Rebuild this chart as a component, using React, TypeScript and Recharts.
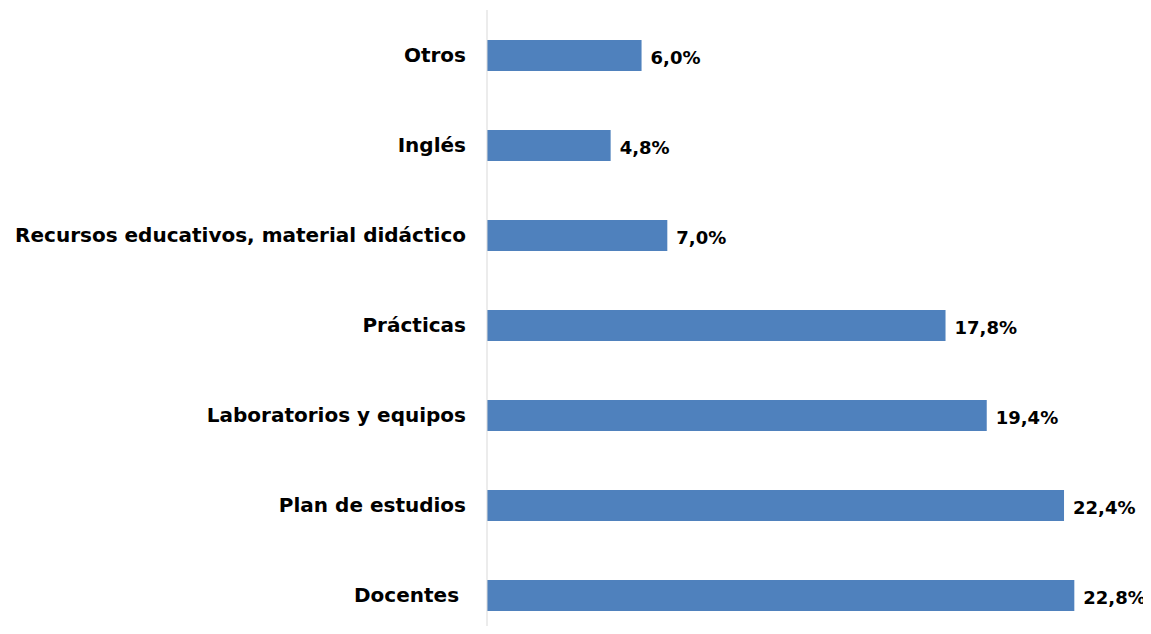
import React from 'react';
import { BarChart, Bar, XAxis, YAxis, LabelList } from 'recharts';

const categories = [
    'Otros',
    'Inglés',
    'Recursos educativos, material didáctico',
    'Prácticas',
    'Laboratorios y equipos',
    'Plan de estudios',
    'Docentes\u00a0',
];
const values = [6.0, 4.8, 7.0, 17.8, 19.4, 22.4, 22.8];

const data = categories.map((name, i) => ({ name, value: values[i] }));

const FONT = "'DejaVu Sans', sans-serif";

export default function App() {
    return (
        <div style={{ margin: -8, width: 1151, height: 634, overflow: 'hidden', background: '#fff' }}>
            <BarChart
                width={1151}
                height={640}
                data={data}
                layout="vertical"
                margin={{ top: 10, right: 20, bottom: 0, left: 0 }}
            >
                <XAxis type="number" domain={[0, 25]} hide />
                <YAxis
                    type="category"
                    dataKey="name"
                    width={487}
                    axisLine={{ stroke: '#d9d9d9', strokeWidth: 1 }}
                    tickLine={false}
                    tickSize={0}
                    tickMargin={21}
                    tick={{ fill: '#000', fontSize: 20, fontWeight: 700, fontFamily: FONT }}
                    interval={0}
                />
                <Bar dataKey="value" fill="#4f81bd" barSize={31} isAnimationActive={false}>
                    <LabelList
                        dataKey="value"
                        position="right"
                        offset={9}
                        formatter={(v: number) => `${v.toFixed(1).replace('.', ',')}%`}
                        style={{ fill: '#000', fontSize: 18, fontWeight: 700, fontFamily: FONT }}
                        dy={2}
                    />
                </Bar>
            </BarChart>
        </div>
    );
}
